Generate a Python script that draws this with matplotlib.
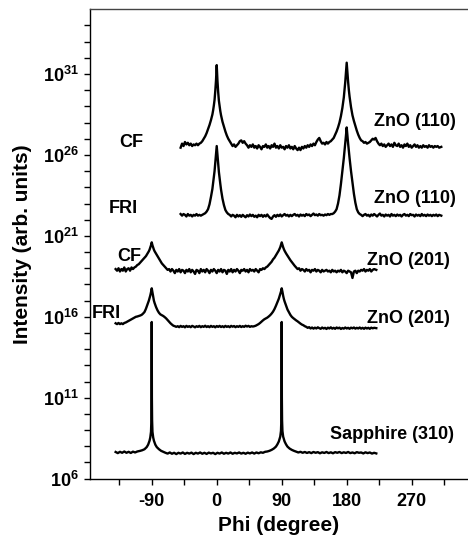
import numpy as np
import matplotlib
matplotlib.use("Agg")
import matplotlib.pyplot as plt

# phi scans, values are (phi in degree, log10 of intensity)
cf110 = [(-50, 26.45), (-48, 26.7), (-46, 26.55), (-44, 26.8), (-42, 26.65), (-40, 26.75), (-38, 26.6),
         (-36, 26.7), (-34, 26.55), (-32, 26.65), (-30, 26.6), (-28, 26.7), (-26, 26.6), (-24, 26.7),
         (-22, 26.75), (-20, 26.85), (-18, 27.0), (-16, 27.15), (-14, 27.35), (-12, 27.6), (-10, 27.85),
         (-8, 28.15), (-6, 28.5), (-5, 28.75), (-4, 29.05), (-3, 29.4), (-2, 29.95), (-1, 30.6),
         (-0.5, 31.1), (0, 31.55), (0.5, 31.1), (1, 30.6), (2, 29.9), (3, 29.35), (4, 29.0), (5, 28.7),
         (6, 28.45), (8, 28.05), (10, 27.75), (12, 27.45), (14, 27.2), (16, 27.0), (18, 26.85), (20, 26.7),
         (22, 26.55), (24, 26.65), (26, 26.5), (28, 26.6), (30, 26.7), (32, 26.85), (34, 26.9), (36, 26.75),
         (38, 26.85), (40, 26.7), (42, 26.6), (44, 26.45), (46, 26.6), (48, 26.5), (50, 26.65), (52, 26.45),
         (54, 26.55), (56, 26.4), (58, 26.6), (60, 26.5), (62, 26.35), (64, 26.55), (66, 26.5), (68, 26.65),
         (70, 26.45), (72, 26.55), (74, 26.4), (76, 26.6), (78, 26.5), (80, 26.7), (82, 26.45), (84, 26.55),
         (86, 26.4), (88, 26.6), (90, 26.45), (92, 26.5), (94, 26.35), (96, 26.55), (98, 26.45), (100, 26.6),
         (102, 26.4), (104, 26.5), (106, 26.35), (108, 26.55), (110, 26.4), (112, 26.3), (114, 26.45),
         (116, 26.3), (118, 26.5), (120, 26.4), (122, 26.55), (124, 26.45), (126, 26.6), (128, 26.5),
         (130, 26.65), (132, 26.55), (134, 26.7), (136, 26.6), (138, 26.8), (140, 26.95), (142, 27.05),
         (144, 26.85), (146, 26.7), (148, 26.75), (150, 26.65), (152, 26.8), (154, 26.7), (156, 26.8),
         (158, 26.85), (160, 26.95), (162, 27.05), (164, 27.25), (166, 27.45), (168, 27.7), (170, 28.0),
         (172, 28.4), (174, 28.9), (176, 29.55), (177, 30.0), (178, 30.5), (179, 31.1), (180, 31.7),
         (181, 31.1), (182, 30.5), (183, 30.0), (184, 29.6), (186, 28.95), (188, 28.45), (190, 28.1),
         (192, 27.8), (194, 27.5), (196, 27.25), (198, 27.05), (200, 26.9), (202, 26.85), (204, 26.75),
         (206, 26.8), (208, 26.7), (210, 26.75), (212, 26.8), (214, 26.9), (216, 27.0), (218, 26.95),
         (220, 27.05), (222, 26.85), (224, 26.7), (226, 26.6), (228, 26.7), (230, 26.55), (232, 26.65),
         (234, 26.5), (236, 26.6), (238, 26.7), (240, 26.55), (242, 26.65), (244, 26.5), (246, 26.75),
         (248, 26.6), (250, 26.55), (252, 26.7), (254, 26.5), (256, 26.6), (258, 26.45), (260, 26.65),
         (262, 26.55), (264, 26.7), (266, 26.5), (268, 26.6), (270, 26.45), (272, 26.55), (274, 26.65),
         (276, 26.5), (278, 26.6), (280, 26.45), (282, 26.55), (284, 26.45), (286, 26.6), (288, 26.5),
         (290, 26.55), (292, 26.45), (294, 26.6), (296, 26.5), (298, 26.55), (300, 26.45), (302, 26.55),
         (304, 26.5), (306, 26.55), (308, 26.45), (311, 26.5)]

fri110 = [(-50, 22.35), (-48, 22.25), (-46, 22.35), (-44, 22.3), (-42, 22.2), (-40, 22.35), (-38, 22.25),
          (-36, 22.3), (-34, 22.2), (-32, 22.3), (-30, 22.25), (-28, 22.35), (-26, 22.25), (-24, 22.3),
          (-22, 22.25), (-20, 22.3), (-18, 22.35), (-16, 22.4), (-14, 22.5), (-12, 22.65), (-10, 22.95),
          (-8, 23.4), (-6, 23.9), (-5, 24.25), (-4, 24.6), (-3, 25.0), (-2, 25.5), (-1, 26.0), (0, 26.55),
          (1, 26.0), (2, 25.45), (3, 24.95), (4, 24.55), (5, 24.2), (6, 23.85), (8, 23.3), (10, 22.9),
          (12, 22.6), (14, 22.45), (16, 22.35), (18, 22.3), (20, 22.2), (22, 22.3), (24, 22.25), (26, 22.15),
          (28, 22.3), (30, 22.2), (32, 22.28), (34, 22.18), (36, 22.3), (38, 22.22), (40, 22.15), (42, 22.28),
          (44, 22.2), (46, 22.32), (48, 22.22), (50, 22.3), (52, 22.18), (54, 22.25), (56, 22.15), (58, 22.3),
          (60, 22.22), (62, 22.3), (64, 22.18), (66, 22.28), (68, 22.2), (70, 22.32), (72, 22.2), (74, 22.1),
          (76, 22.05), (78, 22.2), (80, 22.28), (82, 22.18), (84, 22.3), (86, 22.22), (88, 22.32), (90, 22.2),
          (92, 22.28), (94, 22.35), (96, 22.25), (98, 22.3), (100, 22.2), (102, 22.3), (104, 22.22),
          (106, 22.3), (108, 22.35), (110, 22.25), (112, 22.3), (114, 22.2), (116, 22.32), (118, 22.25),
          (120, 22.3), (122, 22.22), (124, 22.35), (126, 22.28), (128, 22.32), (130, 22.22), (132, 22.3),
          (134, 22.38), (136, 22.28), (138, 22.32), (140, 22.25), (142, 22.35), (144, 22.28), (146, 22.3),
          (148, 22.25), (150, 22.32), (152, 22.28), (154, 22.35), (156, 22.3), (158, 22.35), (160, 22.35),
          (162, 22.4), (164, 22.5), (166, 22.65), (168, 23.0), (170, 23.5), (172, 24.2), (174, 25.0),
          (176, 25.8), (178, 26.7), (179, 27.2), (180, 27.7), (181, 27.2), (182, 26.7), (184, 25.8),
          (186, 25.0), (188, 24.3), (190, 23.6), (192, 23.05), (194, 22.65), (196, 22.45), (198, 22.35),
          (200, 22.3), (202, 22.22), (204, 22.3), (206, 22.35), (208, 22.25), (210, 22.3), (212, 22.2),
          (214, 22.32), (216, 22.25), (218, 22.35), (220, 22.28), (222, 22.2), (224, 22.3), (226, 22.38),
          (228, 22.25), (230, 22.3), (232, 22.2), (234, 22.32), (236, 22.25), (238, 22.3), (240, 22.2),
          (242, 22.35), (244, 22.25), (246, 22.3), (248, 22.22), (250, 22.32), (252, 22.25), (254, 22.3),
          (256, 22.2), (258, 22.3), (260, 22.35), (262, 22.25), (264, 22.3), (266, 22.22), (268, 22.35),
          (270, 22.28), (272, 22.3), (274, 22.2), (276, 22.32), (278, 22.25), (280, 22.3), (282, 22.22),
          (284, 22.35), (286, 22.25), (288, 22.3), (290, 22.22), (292, 22.32), (294, 22.25), (296, 22.3),
          (298, 22.22), (300, 22.3), (302, 22.25), (304, 22.32), (306, 22.22), (308, 22.3), (311, 22.25)]

cf201 = [(-140, 18.95), (-138, 18.85), (-136, 19.0), (-134, 18.8), (-132, 18.95), (-130, 18.85), (-128, 19.05),
         (-126, 18.8), (-124, 18.95), (-122, 19.0), (-120, 18.85), (-118, 19.05), (-116, 18.95), (-114, 19.05),
         (-112, 19.1), (-110, 19.2), (-108, 19.25), (-106, 19.35), (-104, 19.45), (-102, 19.55), (-100, 19.65),
         (-98, 19.75), (-96, 19.9), (-94, 20.05), (-93, 20.15), (-92, 20.28), (-91, 20.42), (-90, 20.6),
         (-89, 20.42), (-88, 20.28), (-87, 20.15), (-86, 20.05), (-84, 19.9), (-82, 19.75), (-80, 19.6),
         (-78, 19.45), (-76, 19.3), (-74, 19.2), (-72, 19.1), (-70, 19.0), (-68, 18.9), (-66, 18.95),
         (-64, 18.8), (-62, 18.95), (-60, 18.85), (-58, 18.7), (-56, 18.9), (-54, 18.8), (-52, 18.95),
         (-50, 18.75), (-48, 18.9), (-46, 18.85), (-44, 18.7), (-42, 18.9), (-40, 18.8), (-38, 18.95),
         (-36, 18.75), (-34, 18.9), (-32, 18.8), (-30, 18.65), (-28, 18.9), (-26, 18.85), (-24, 18.7),
         (-22, 18.95), (-20, 18.8), (-18, 18.9), (-16, 18.75), (-14, 18.95), (-12, 18.85), (-10, 18.7),
         (-8, 18.9), (-6, 18.8), (-4, 18.95), (-2, 18.85), (0, 18.7), (2, 18.9), (4, 18.8), (6, 18.95),
         (8, 18.75), (10, 18.9), (12, 18.85), (14, 18.65), (16, 18.9), (18, 18.8), (20, 18.95), (22, 18.75),
         (24, 18.9), (26, 18.8), (28, 18.95), (30, 18.85), (32, 18.7), (34, 18.9), (36, 18.85), (38, 18.95),
         (40, 18.8), (42, 18.9), (44, 18.75), (46, 18.95), (48, 18.85), (50, 18.9), (52, 18.8), (54, 18.95),
         (56, 18.85), (58, 18.75), (60, 18.95), (62, 18.9), (64, 19.0), (66, 18.95), (68, 19.05), (70, 19.1),
         (72, 19.2), (74, 19.3), (76, 19.4), (78, 19.55), (80, 19.65), (82, 19.8), (84, 19.95), (86, 20.1),
         (87, 20.2), (88, 20.3), (89, 20.45), (90, 20.6), (91, 20.45), (92, 20.3), (93, 20.18), (94, 20.08),
         (96, 19.92), (98, 19.78), (100, 19.65), (102, 19.5), (104, 19.38), (106, 19.25), (108, 19.15),
         (110, 19.05), (112, 18.95), (114, 19.0), (116, 18.85), (118, 18.95), (120, 18.9), (122, 18.8),
         (124, 18.95), (126, 18.85), (128, 18.9), (130, 18.75), (132, 18.9), (134, 18.85), (136, 18.95),
         (138, 18.8), (140, 18.9), (142, 18.85), (144, 18.75), (146, 18.9), (148, 18.8), (150, 18.85),
         (152, 18.9), (154, 18.8), (156, 18.85), (158, 18.75), (160, 18.9), (162, 18.8), (164, 18.85),
         (166, 18.75), (168, 18.85), (170, 18.8), (172, 18.9), (174, 18.75), (176, 18.85), (178, 18.8),
         (180, 18.7), (182, 18.85), (184, 18.8), (186, 18.75), (188, 18.4), (190, 18.8), (192, 18.85),
         (194, 18.7), (196, 18.85), (198, 18.8), (200, 18.9), (202, 18.85), (204, 18.95), (206, 18.8),
         (208, 18.9), (210, 18.85), (212, 18.95), (214, 18.8), (216, 18.9), (218, 18.95), (221, 18.9)]

fri201 = [(-140, 15.6), (-138, 15.55), (-136, 15.62), (-134, 15.55), (-132, 15.6), (-130, 15.55), (-128, 15.62),
          (-126, 15.65), (-124, 15.7), (-122, 15.75), (-120, 15.8), (-118, 15.85), (-116, 15.9), (-114, 15.95),
          (-112, 16.0), (-110, 16.02), (-108, 16.05), (-106, 16.08), (-104, 16.12), (-102, 16.2), (-100, 16.3),
          (-98, 16.5), (-96, 16.75), (-94, 17.0), (-93, 17.15), (-92, 17.32), (-91, 17.52), (-90, 17.76),
          (-89, 17.5), (-88, 17.22), (-87, 17.0), (-86, 16.85), (-84, 16.6), (-82, 16.4), (-80, 16.25),
          (-78, 16.15), (-76, 16.1), (-74, 16.05), (-72, 15.98), (-70, 15.9), (-68, 15.8), (-66, 15.7),
          (-64, 15.6), (-62, 15.52), (-60, 15.45), (-58, 15.42), (-56, 15.38), (-54, 15.42), (-52, 15.36),
          (-50, 15.44), (-48, 15.38), (-46, 15.42), (-44, 15.35), (-42, 15.44), (-40, 15.38), (-38, 15.42),
          (-36, 15.36), (-34, 15.44), (-32, 15.4), (-30, 15.35), (-28, 15.42), (-26, 15.38), (-24, 15.44),
          (-22, 15.36), (-20, 15.42), (-18, 15.38), (-16, 15.45), (-14, 15.37), (-12, 15.42), (-10, 15.36),
          (-8, 15.44), (-6, 15.38), (-4, 15.42), (-2, 15.35), (0, 15.43), (2, 15.38), (4, 15.44), (6, 15.37),
          (8, 15.42), (10, 15.36), (12, 15.44), (14, 15.38), (16, 15.42), (18, 15.36), (20, 15.44),
          (22, 15.39), (24, 15.43), (26, 15.36), (28, 15.42), (30, 15.38), (32, 15.44), (34, 15.37),
          (36, 15.42), (38, 15.38), (40, 15.45), (42, 15.4), (44, 15.44), (46, 15.38), (48, 15.42),
          (50, 15.4), (52, 15.42), (54, 15.45), (56, 15.5), (58, 15.55), (60, 15.62), (62, 15.7), (64, 15.78),
          (66, 15.85), (68, 15.9), (70, 15.95), (72, 16.02), (74, 16.1), (76, 16.2), (78, 16.32), (80, 16.48),
          (82, 16.68), (84, 16.9), (86, 17.12), (88, 17.4), (89, 17.56), (90, 17.76), (91, 17.55), (92, 17.3),
          (93, 17.1), (94, 16.95), (96, 16.7), (98, 16.45), (100, 16.28), (102, 16.12), (104, 16.0),
          (106, 15.92), (108, 15.85), (110, 15.78), (112, 15.72), (114, 15.65), (116, 15.58), (118, 15.52),
          (120, 15.48), (122, 15.42), (124, 15.38), (126, 15.32), (128, 15.36), (130, 15.28), (132, 15.34),
          (134, 15.27), (136, 15.33), (138, 15.28), (140, 15.35), (142, 15.3), (144, 15.26), (146, 15.34),
          (148, 15.28), (150, 15.32), (152, 15.25), (154, 15.33), (156, 15.28), (158, 15.35), (160, 15.27),
          (162, 15.32), (164, 15.26), (166, 15.34), (168, 15.29), (170, 15.33), (172, 15.25), (174, 15.31),
          (176, 15.27), (178, 15.34), (180, 15.28), (182, 15.32), (184, 15.26), (186, 15.33), (188, 15.29),
          (190, 15.34), (192, 15.27), (194, 15.32), (196, 15.28), (198, 15.34), (200, 15.27), (202, 15.32),
          (204, 15.26), (206, 15.33), (208, 15.28), (210, 15.32), (212, 15.26), (214, 15.33), (216, 15.29),
          (218, 15.32), (221, 15.3)]

sapphire310 = [(-140, 7.65), (-137, 7.58), (-134, 7.66), (-131, 7.6), (-128, 7.68), (-125, 7.6), (-122, 7.66),
               (-119, 7.59), (-116, 7.67), (-113, 7.62), (-110, 7.68), (-106, 7.72), (-103, 7.76), (-100, 7.82),
               (-97, 7.95), (-95, 8.1), (-93, 8.35), (-92, 8.55), (-91, 8.9), (-90.5, 9.6), (-90.2, 11.0),
               (-90, 15.68), (-89.8, 11.0), (-89.5, 9.6), (-89, 8.9), (-88, 8.55), (-87, 8.35), (-85, 8.1),
               (-83, 7.95), (-80, 7.82), (-77, 7.72), (-74, 7.66), (-71, 7.6), (-68, 7.55), (-65, 7.62),
               (-62, 7.54), (-59, 7.6), (-56, 7.52), (-53, 7.6), (-50, 7.55), (-47, 7.62), (-44, 7.53),
               (-41, 7.6), (-38, 7.55), (-35, 7.61), (-32, 7.52), (-29, 7.6), (-26, 7.55), (-23, 7.62),
               (-20, 7.54), (-17, 7.6), (-14, 7.53), (-11, 7.61), (-8, 7.56), (-5, 7.6), (-2, 7.52), (1, 7.6),
               (4, 7.55), (7, 7.62), (10, 7.54), (13, 7.6), (16, 7.55), (19, 7.62), (22, 7.54), (25, 7.6),
               (28, 7.56), (31, 7.62), (34, 7.55), (37, 7.6), (40, 7.54), (43, 7.61), (46, 7.56), (49, 7.62),
               (52, 7.55), (55, 7.62), (58, 7.57), (61, 7.63), (64, 7.6), (67, 7.66), (70, 7.68), (73, 7.72),
               (76, 7.78), (79, 7.86), (82, 7.98), (84, 8.12), (86, 8.3), (88, 8.6), (89, 8.95), (89.5, 9.6),
               (89.8, 11.0), (90, 15.68), (90.2, 11.0), (90.5, 9.6), (91, 8.95), (92, 8.6), (94, 8.3),
               (96, 8.12), (98, 7.98), (101, 7.86), (104, 7.78), (107, 7.72), (110, 7.67), (113, 7.62),
               (116, 7.66), (119, 7.6), (122, 7.65), (125, 7.59), (128, 7.64), (131, 7.58), (134, 7.65),
               (137, 7.6), (140, 7.64), (143, 7.57), (146, 7.63), (149, 7.59), (152, 7.65), (155, 7.58),
               (158, 7.63), (161, 7.57), (164, 7.64), (167, 7.6), (170, 7.65), (173, 7.58), (176, 7.63),
               (179, 7.59), (182, 7.65), (185, 7.58), (188, 7.62), (191, 7.57), (194, 7.64), (197, 7.6),
               (200, 7.62), (203, 7.56), (206, 7.63), (209, 7.58), (212, 7.62), (215, 7.55), (218, 7.6),
               (221, 7.56)]

series = [cf110, fri110, cf201, fri201, sapphire310]

major_y = [6, 11, 16, 21, 26, 31]
x_major = [-90, 0, 90, 180, 270]
x_minor = [-135, -45, 45, 135, 225, 315]

plt.rcParams['font.family'] = ['Liberation Sans', 'DejaVu Sans']
plt.rcParams['font.weight'] = 'bold'
plt.rcParams['mathtext.fontset'] = 'custom'
plt.rcParams['mathtext.rm'] = 'Liberation Sans:bold'
plt.rcParams['mathtext.it'] = 'Liberation Sans:bold'
plt.rcParams['mathtext.bf'] = 'Liberation Sans:bold'
plt.rcParams['mathtext.default'] = 'rm'

fig = plt.figure(figsize=(4.68, 5.39), dpi=100)
ax = fig.add_axes([0.1923, 0.1119, 0.8077, 0.8709])

for s in series:
    phi = [p[0] for p in s]
    lg = np.array([p[1] for p in s])
    ax.plot(phi, np.power(10.0, lg), color='black', linewidth=1.7, solid_joinstyle='round')

ax.set_yscale('log')
ax.set_xlim(-175.5, 348)
ax.set_ylim(1e6, 1e35)

ax.set_yticks([10.0 ** e for e in major_y])
ax.set_yticklabels(['$10^{%d}$' % e for e in major_y])
ax.set_yticks([10.0 ** e for e in range(6, 35) if e not in major_y], minor=True)
ax.set_yticklabels([], minor=True)
ax.set_xticks(x_major)
ax.set_xticklabels([str(v) for v in x_major])
ax.set_xticks(x_minor, minor=True)

ax.tick_params(which='both', direction='out', length=4.5, width=1.0, labelsize=13)
ax.tick_params(axis='x', pad=6)
ax.spines['right'].set_visible(False)
for sp in ['left', 'bottom', 'top']:
    ax.spines[sp].set_linewidth(1.0)
ax.spines['top'].set_color('#444444')

ax.set_xlabel('Phi (degree)', fontsize=15, fontweight='bold', labelpad=4)
ax.set_ylabel('Intensity (arb. units)', fontsize=15, fontweight='bold', labelpad=8)

fs = 13
ax.text(-117.7, 10 ** 26.8, 'CF', fontsize=fs, fontweight='bold', ha='center', va='center')
ax.text(-129.7, 10 ** 22.72, 'FRI', fontsize=fs, fontweight='bold', ha='center', va='center')
ax.text(217.8, 10 ** 28.05, 'ZnO (110)', fontsize=fs, fontweight='bold', ha='left', va='center')
ax.text(217.8, 10 ** 23.33, 'ZnO (110)', fontsize=fs, fontweight='bold', ha='left', va='center')
ax.text(-121.4, 10 ** 19.71, 'CF', fontsize=fs, fontweight='bold', ha='center', va='center')
ax.text(207.7, 10 ** 19.5, 'ZnO (201)', fontsize=fs, fontweight='bold', ha='left', va='center')
ax.text(-152.3, 10 ** 16.23, 'FRI', fontsize=fs, fontweight='bold', ha='center', va='center')
ax.text(207.7, 10 ** 15.91, 'ZnO (201)', fontsize=fs, fontweight='bold', ha='left', va='center')
ax.text(156.9, 10 ** 8.7, 'Sapphire (310)', fontsize=fs, fontweight='bold', ha='left', va='center')

fig.savefig('out.png', dpi=100)
